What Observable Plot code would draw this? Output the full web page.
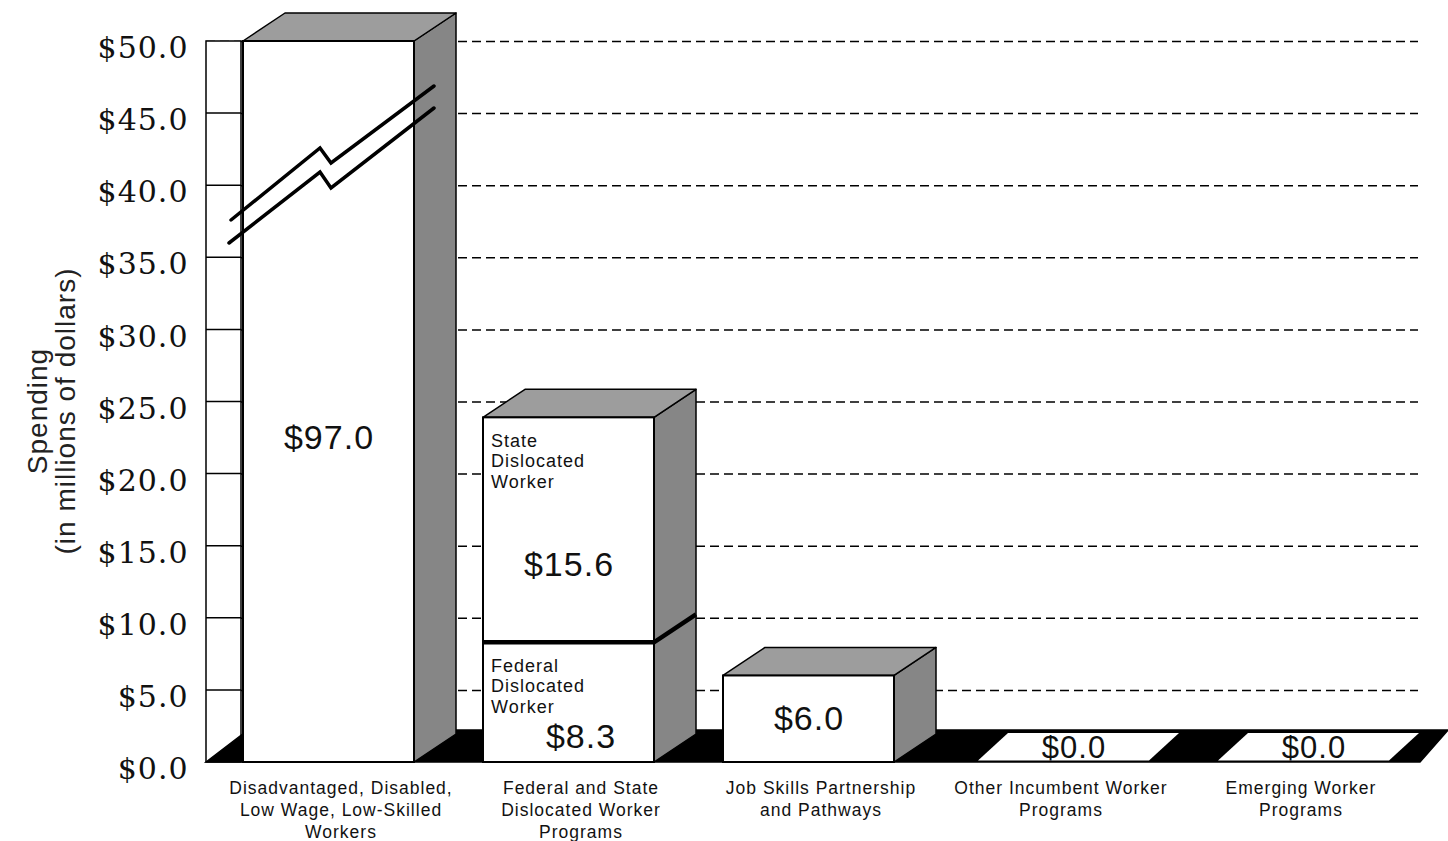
<!DOCTYPE html>
<html>
<head>
<meta charset="utf-8">
<script src="https://cdn.jsdelivr.net/npm/d3@7"></script>
<script src="https://cdn.jsdelivr.net/npm/@observablehq/plot@0.6"></script>
<style>
  html, body { margin: 0; padding: 0; background: #fff; }
  #chart svg text { letter-spacing: 1px; }
</style>
</head>
<body>
<div id="chart"></div>
<script>
// Workforce training spending by program group, in millions of dollars
const categories = [
  "Disadvantaged, Disabled,\nLow Wage, Low-Skilled\nWorkers",
  "Federal and State\nDislocated Worker\nPrograms",
  "Job Skills Partnership\nand Pathways",
  "Other Incumbent Worker\nPrograms",
  "Emerging Worker\nPrograms"
];

// One entry per stacked segment (bottom to top within a program group)
const segmentCategory = [0, 1, 1, 2, 3, 4];
const segmentName = ["", "Federal\nDislocated\nWorker", "State\nDislocated\nWorker", "", "", ""];
const segmentValue = [97.0, 8.3, 15.6, 6.0, 0.0, 0.0];

const yTicks = [0, 5, 10, 15, 20, 25, 30, 35, 40, 45, 50];
const yTitle = "Spending\n(in millions of dollars)";

const yMax = yTicks[yTicks.length - 1];
const money = v => "$" + v.toFixed(1);

// Stack the segments of each group
const segments = segmentValue.map((v, i) => ({
  category: categories[segmentCategory[i]],
  name: segmentName[i],
  value: v
}));
const base = new Map();
for (const s of segments) {
  const b = base.get(s.category) ?? 0;
  s.y1 = b;
  s.y2 = b + s.value;
  base.set(s.category, s.y2);
}
const totals = categories.map(c => ({category: c, total: base.get(c)}));

// Extrusion of the boxes (pixels)
const DX = 42, DY = 28, FLOOR = 32;
const SIDE = "#868686", TOP = "#9d9d9d";

// Where each value label sits inside its segment
function labelY(d) {
  if (d.y2 > yMax) return yMax * 0.45;           // broken (off-scale) bar
  if (d.name) return (d.y1 + d.y2 - 4.8) / 2;     // leave room for the segment name
  return (d.y1 + d.y2) / 2;
}

// Wall, floor slab and the extruded side/top faces
function solids(index, {x, y}, values, dims) {
  const g = d3.create("svg:g");
  const left = dims.marginLeft;
  const right = dims.width - dims.marginRight;
  const floorY = y(0);
  const wallRight = x.range()[0];

  g.append("rect")
    .attr("x", left).attr("y", y(yMax))
    .attr("width", wallRight - left).attr("height", floorY - y(yMax))
    .attr("fill", "white").attr("stroke", "black").attr("stroke-width", 1.5);
  g.append("g").selectAll("line")
    .data(yTicks.filter(t => t > 0 && t < yMax))
    .join("line")
    .attr("x1", left).attr("x2", wallRight)
    .attr("y1", d => y(d)).attr("y2", d => y(d))
    .attr("stroke", "black").attr("stroke-width", 1.5);

  g.append("path")
    .attr("d", `M${left},${floorY}L${left + DX},${floorY - FLOOR}L${right + 30},${floorY - FLOOR}L${right + 2},${floorY}Z`)
    .attr("fill", "black").attr("stroke", "black").attr("stroke-width", 1.5);

  const bw = x.bandwidth();
  for (const t of totals) {
    const xa = x(t.category), xb = xa + bw;
    if (t.total === 0) {
      g.append("path")
        .attr("d", `M${xa + 15},${floorY - 1.5}L${xa + 45},${floorY - 29}L${xb + 45},${floorY - 29}L${xb + 15},${floorY - 1.5}Z`)
        .attr("fill", "white");
      continue;
    }
    const yt = y(t.total);
    g.append("path")
      .attr("d", `M${xb},${floorY}L${xb},${yt}L${xb + DX},${yt - DY}L${xb + DX},${floorY - DY}Z`)
      .attr("fill", SIDE).attr("stroke", "black").attr("stroke-width", 1.5).attr("stroke-linejoin", "round");
    g.append("path")
      .attr("d", `M${xa},${yt}L${xa + DX},${yt - DY}L${xb + DX},${yt - DY}L${xb},${yt}Z`)
      .attr("fill", TOP).attr("stroke", "black").attr("stroke-width", 1.5).attr("stroke-linejoin", "round");
  }
  return g.node();
}

// Segment dividers and the scale-break marks on off-scale bars
function overlays(index, {x, y}) {
  const g = d3.create("svg:g").attr("fill", "none").attr("stroke", "black");
  const bw = x.bandwidth();
  const breakUpper = [[-12, 179], [77, 107], [88, 122], [191, 45]];
  const breakLower = [[-14, 202], [77, 131], [88, 147], [191, 67]];
  for (const c of categories) {
    const segs = segments.filter(s => s.category === c && s.value > 0);
    if (!segs.length) continue;
    const xa = x(c), xb = xa + bw;
    for (const s of segs.slice(1)) {
      const yb = y(s.y1);
      g.append("path")
        .attr("d", `M${xa},${yb}H${xb}L${xb + DX},${yb - DY}`)
        .attr("stroke-width", 4.5);
    }
    const top = segs[segs.length - 1];
    if (top.y2 > yMax) {
      const y0 = y(yMax);
      for (const pts of [breakUpper, breakLower]) {
        g.append("path")
          .attr("d", d3.line()(pts.map(([px, py]) => [xa + px, y0 + py])))
          .attr("stroke-width", 3.5).attr("stroke-linecap", "round");
      }
    }
  }
  return g.node();
}

// The bottom named segment is short, so its value label is nudged right
const nudged = d => d.value > 0 && d.name && d.y1 === 0;

const chart = Plot.plot({
  width: 1448,
  height: 841,
  marginLeft: 206,
  marginRight: 30,
  marginTop: 41,
  marginBottom: 79,
  x: {domain: categories, range: [241, 1377], paddingInner: 0.286, paddingOuter: 0, axis: null},
  y: {domain: [0, yMax], clamp: true, axis: null},
  style: {fontFamily: "'Liberation Sans', Arial, sans-serif", background: "white", color: "black", overflow: "visible"},
  marks: [
    Plot.ruleY(yTicks.filter(t => t > 0), {stroke: "black", strokeWidth: 1.5, strokeDasharray: "9,5"}),
    solids,
    Plot.barY(segments.filter(d => d.value > 0), {
      x: "category", y1: "y1", y2: "y2",
      fill: "white", stroke: "black", strokeWidth: 2
    }),
    overlays,
    // value labels
    Plot.text(segments.filter(d => d.value > 0 && !nudged(d)), {
      x: "category", y: labelY, text: d => money(d.value),
      fontSize: 34, fill: "#111"
    }),
    Plot.text(segments.filter(nudged), {
      x: "category", y: labelY, text: d => money(d.value),
      dx: 12, fontSize: 34, fill: "#111"
    }),
    Plot.text(segments.filter(d => d.value === 0), {
      x: "category", y: "y2", text: d => money(d.value),
      dx: 25, dy: -14, fontSize: 31, fill: "#111"
    }),
    // segment names
    Plot.text(segments.filter(d => d.name), {
      x: "category", y: "y2", text: "name",
      textAnchor: "start", lineAnchor: "top", dx: -78, dy: 14,
      fontSize: 18, lineHeight: 1.15, fill: "#111"
    }),
    // program group labels
    Plot.text(categories, {
      x: d => d, text: d => d, frameAnchor: "bottom",
      lineAnchor: "top", dx: 12, dy: 16,
      fontSize: 17.5, lineHeight: 1.26, fill: "#111"
    }),
    // y tick labels
    Plot.text(yTicks, {
      y: d => d, text: d => money(d), frameAnchor: "left",
      textAnchor: "end", dx: -18, dy: 7,
      fontSize: 30, fontFamily: "'DejaVu Serif', serif", fill: "#111"
    }),
    // y title
    Plot.text([yTitle], {
      text: d => d, frameAnchor: "left", textAnchor: "middle", rotate: -90,
      dx: -154, dy: 9, fontSize: 28, lineHeight: 1.0, fill: "#222"
    })
  ]
});

document.getElementById("chart").appendChild(chart);
</script>
</body>
</html>
